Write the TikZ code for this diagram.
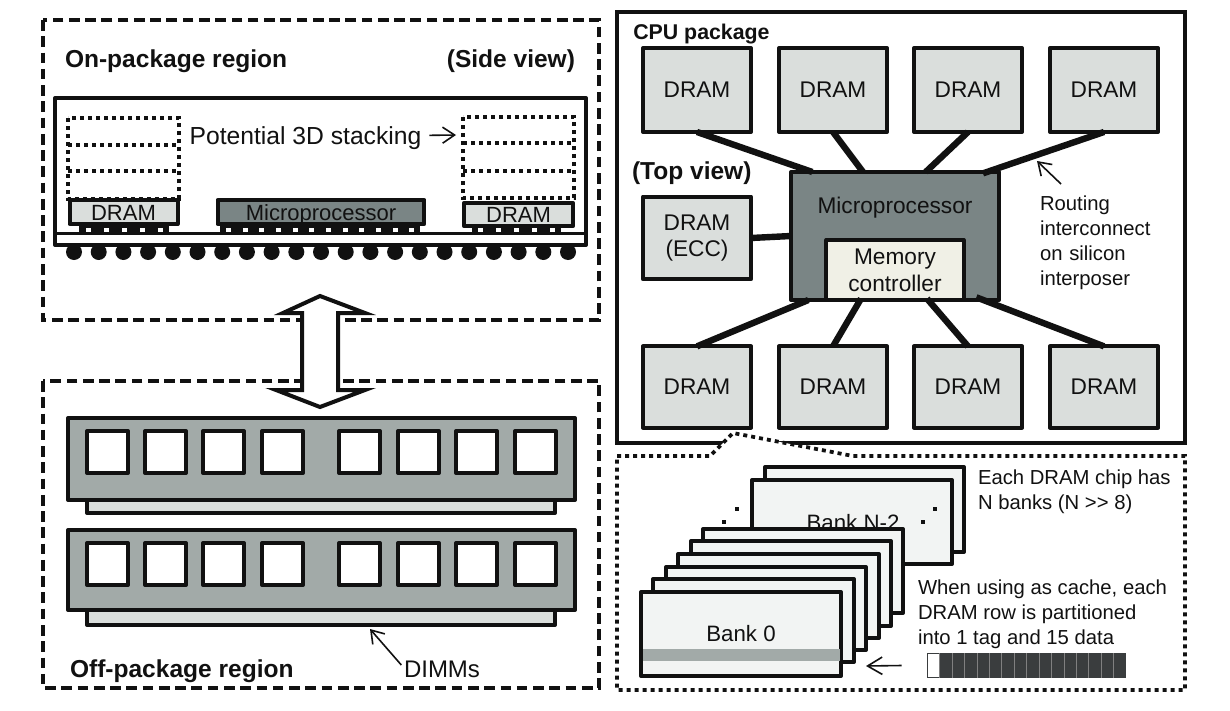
\documentclass[tikz,border=0pt]{standalone}
\usepackage{fontspec}
\setmainfont{Liberation Sans}
\usetikzlibrary{arrows.meta}
\definecolor{lgray}{HTML}{DADEDC}
\definecolor{dgray}{HTML}{7A8585}
\definecolor{mgray}{HTML}{A2AAA8}
\definecolor{cream}{HTML}{F0F0E6}
\definecolor{bankf}{HTML}{F2F4F3}
\definecolor{blk}{HTML}{111111}
\definecolor{rowd}{HTML}{3A3D3E}
\newcommand{\fsz}[1]{\fontsize{#1}{#1}\selectfont}
\tikzset{
  x=0.75pt,y=-0.75pt,
  solidbox/.style={draw=blk,line width=3pt,line join=round,inner sep=0pt,outer sep=0pt},
  dashbox/.style={draw=blk,line width=2.8pt,dash pattern=on 8pt off 4.2pt},
  dotbox/.style={draw=blk,line width=2.8pt,dash pattern=on 3pt off 3pt},
  wire/.style={draw=blk,line width=4.8pt},
  thinarrow/.style={draw=blk,line width=1.2pt,-{Straight Barb[length=9pt,width=12pt,line width=1.2pt]}},
  bigarrow/.style={draw=blk,line width=1.2pt,-{Straight Barb[length=11pt,width=13pt,line width=1.2pt]}},
  txt/.style={font=\fsz{17}\color{blk},inner sep=0pt,outer sep=0pt},
  largetxt/.style={font=\fsz{18.5}\color{blk},inner sep=0pt,outer sep=0pt},
  smalltxt/.style={font=\fsz{15.2}\color{blk},inner sep=0pt,outer sep=0pt,anchor=west},
  btxt/.style={font=\fsz{18.4}\bfseries\color{blk},inner sep=0pt,outer sep=0pt,anchor=west},
}
\begin{document}
\begin{tikzpicture}
\useasboundingbox (0,0) rectangle (1230,710);
\fill[white] (0,0) rectangle (1230,710);
% side view frame
\draw[dashbox] (43,20) rectangle (599,320);
\draw[dashbox] (43,381) rectangle (599,688);
\node[btxt] (onpkg) at (65,61) {On-package region};
\node[btxt,anchor=east] (side) at (575,61) {(Side view)};
% balls
\foreach \i in {0,...,20} {\fill[blk] ({74+\i*24.7},252) circle (8);}
\draw[solidbox,fill=white] (55,98) rectangle (586,245);
\draw[draw=blk,line width=2.2pt] (55,233.5) -- (586,233.5);
% bumps
\foreach \a/\b/\n in {79/169/5,220/420/12,472/561/5} {
  \fill[blk] (\a,225) rectangle (\b,234);
  \pgfmathsetmacro{\st}{(\b-\a)/\n}
  \foreach \k in {1,...,\n} {\fill[white] ({\a+(\k-0.5)*\st-2.5},228) rectangle ({\a+(\k-0.5)*\st+2.5},231.5);}
}
% stacks
\draw[dotbox] (68,118) rectangle (179,199);
\draw[dotbox] (68,145) -- (179,145);
\draw[dotbox] (68,171) -- (179,171);
\draw[dotbox] (463,117) rectangle (574,198);
\draw[dotbox] (463,143) -- (574,143);
\draw[dotbox] (463,171) -- (574,171);
\node[solidbox,fill=lgray,minimum width=81pt,minimum height=18pt,txt,text height=12pt,text depth=0pt] (dl) at (123.5,212) {\fsz{16.5}DRAM};
\node[solidbox,fill=dgray,minimum width=155pt,minimum height=18pt,txt,text height=12pt,text depth=0pt] (ml) at (321,212) {\fsz{16.5}Microprocessor};
\node[solidbox,fill=lgray,minimum width=82pt,minimum height=17pt,txt,text height=12pt,text depth=0pt] (dr) at (518.5,214.5) {\fsz{16.5}DRAM};
\node[largetxt] (pot) at (305.5,138) {Potential 3D stacking};
\coordinate (potarrow) at (456,135);
\draw[thinarrow] ([xshift=6pt,yshift=2pt]pot.east) -- (potarrow);
% double arrow
\draw[draw=blk,line width=3pt,fill=white,miter limit=10] (320,296) -- (365,313) -- (338,313) -- (338,390) -- (365,390) -- (320,407) -- (276,390) -- (302,390) -- (302,313) -- (283,313) -- cycle;
% DIMMs
\foreach \t/\h/\tb in {418/82/513,530/80/625} {
  \draw[solidbox,fill=lgray] (87,\t+\h) rectangle (555,\tb);
  \draw[solidbox,fill=mgray] (68,\t) rectangle (575,\t+\h);
  \foreach \x in {87,145,203,262,339,398,456,515} {
    \draw[solidbox,fill=white] (\x,\t+13) rectangle (\x+41,\t+55);
  }
}
\node[btxt] (offpkg) at (70,671) {Off-package region};
\node[txt,anchor=west] (dimms) at (404,669) {\fsz{18}DIMMs};
\coordinate (dimmtip) at (370,629);
\draw[thinarrow] ([shift={(-2pt,3pt)}]dimms.west) -- (dimmtip);
% CPU package
\draw[draw=blk,line width=2.8pt] (617,12) rectangle (1185,443);
\node[font=\fsz{16}\bfseries\color{blk},inner sep=0pt,anchor=west] (cpu) at (633,34) {CPU package};
\node[btxt] (top) at (632,173) {(Top view)};
\foreach \n/\x in {t1/641,t2/777,t3/912,t4/1048} {
  \node[solidbox,fill=lgray,minimum width=81pt,minimum height=63pt,txt] (\n) at (\x+56,90) {DRAM};
}
\foreach \n/\x in {b1/641,b2/777,b3/912,b4/1048} {
  \node[solidbox,fill=lgray,minimum width=81pt,minimum height=61pt,txt] (\n) at (\x+56,387) {DRAM};
}
\node[solidbox,fill=lgray,minimum width=81pt,minimum height=62pt,txt,align=center] (ecc) at (697,238) {\raisebox{-2pt}{DRAM}\\[3pt]\raisebox{-2pt}{(ECC)}};
\node[solidbox,fill=dgray,minimum width=156pt,minimum height=96pt] (mp) at (895,236) {};
\node[txt] (mptxt) at (895,208) {Microprocessor};
\node[solidbox,fill=cream,minimum width=103pt,minimum height=45pt,txt,align=center] (mc) at (895,270) {Memory\\[3pt]controller};
\draw[wire] (t1.south) -- ([xshift=16pt]mp.north west);
\draw[wire] (t2.south) -- ([xshift=54pt]mp.north west);
\draw[wire] (t3.south) -- ([xshift=101pt]mp.north west);
\draw[wire] (t4.south) -- ([xshift=144pt,yshift=-1pt]mp.north west);
\draw[wire] (ecc.east) -- (mp.west);
\draw[wire] (b1.north) -- ([xshift=13pt]mp.south west);
\draw[wire] (b2.north) -- ([xshift=52.5pt,yshift=1pt]mp.south west);
\draw[wire] (b3.north) -- ([xshift=102pt,yshift=1pt]mp.south west);
\draw[wire] (b4.north) -- ([xshift=139pt,yshift=2pt]mp.south west);
\coordinate (routetip) at (1037,161);
\coordinate (routetail) at (1061,184);
\draw[thinarrow] (routetail) -- (routetip);
\node[smalltxt,align=left,text width=130pt] (rt) at (1040,243) {Routing\\[3.6pt]interconnect\\[3.6pt]on silicon\\[3.6pt]interposer};
% Detail
\draw[dotbox,fill=white] (617,456) -- (710,456) -- (733,433) -- (853,456) -- (1185,456) -- (1185,690) -- (617,690) -- cycle;
\draw[solidbox,fill=bankf] (765,467) rectangle (964,552);
\draw[solidbox,fill=bankf] (752,480) rectangle (952,564);
\node[font=\fsz{16.7}\color{blk},inner sep=0pt] (bn) at (853,523) {Bank N-2};
\foreach \x/\y in {737/509,724/522,935/509,923/522} {\fill[blk] (\x-1.8,\y-1.8) rectangle (\x+1.8,\y+1.8);}
\foreach \l/\r/\t/\b in {703/903/529/613,691/891/541/626,678/879/554/638,666/866/567/650,653/854/579/662} {\draw[solidbox,fill=bankf] (\l,\t) rectangle (\r,\b);}
\draw[solidbox,fill=bankf] (641,592) rectangle (841,676);
\fill[mgray] (642.5,649) rectangle (839.5,661);
\node[font=\fsz{16.7}\color{blk},inner sep=0pt] (b0) at (741,634) {Bank 0};
\node[smalltxt] (each1) at (978,479) {Each DRAM chip has};
\node[smalltxt] (each2) at (978,504) {N banks (N >{}> 8)};
\node[smalltxt] (when1) at (918,589) {When using as cache, each};
\node[smalltxt] (when2) at (918,614) {DRAM row is partitioned};
\node[smalltxt] (when3) at (918,639) {into 1 tag and 15 data};
\node[fill=rowd,inner sep=0pt,outer sep=0pt,minimum width=149.25pt,minimum height=18.75pt] (rowbar) at (1026.5,665.5) {};
\fill[white] (928,654) rectangle (939,677);
\foreach \i in {1,...,15} {\draw[draw=gray,line width=0.4pt] ({927+\i*12.44},653) -- ({927+\i*12.44},678);}
\coordinate (rowtip) at (866,666);
\draw[bigarrow] ([xshift=-19pt]rowbar.west) -- (rowtip);
\end{tikzpicture}
\end{document}
